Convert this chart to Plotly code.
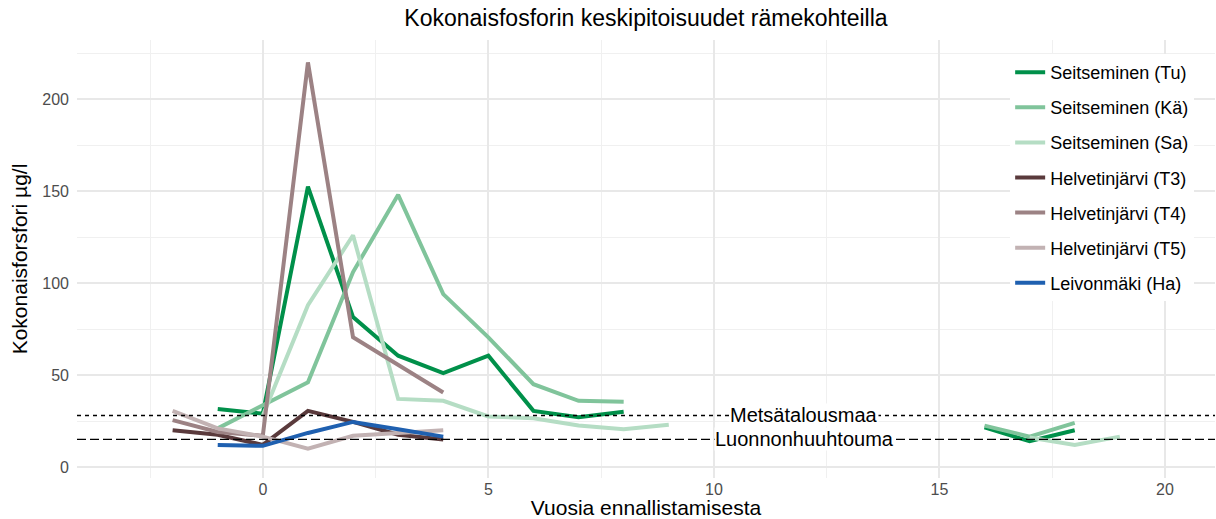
import plotly.graph_objects as go

# --- data ---
tu_x = [-1, 0, 1, 2, 3, 4, 5, 6, 7, 8, None, 16, 17, 18]
tu_y = [31.5, 29, 152.5, 81.5, 60.5, 51, 60.5, 30.5, 27, 30, None, 21.5, 14, 20]

ka_x = [-1, 0, 1, 2, 3, 4, 5, 6, 7, 8, None, 16, 17, 18]
ka_y = [21, 33.5, 46, 106, 148, 94, 70.5, 45, 36, 35.5, None, 22.5, 16.5, 24]

sa_x = [0, 1, 2, 3, 4, 5, 6, 7, 8, 9, None, 17, 18, 19]
sa_y = [28, 88, 126, 37, 36, 27.5, 26.5, 22.5, 20.5, 23, None, 16, 12, 16.5]

t3_x = [-2, -1, 0, 1, 2, 3, 4]
t3_y = [20, 17.5, 12, 30.5, 24.5, 17.5, 15]

t4_x = [-2, -1, 0, 1, 2, 3, 4]
t4_y = [25.5, 19, 17, 220, 70.5, 55.5, 40.5]

t5_x = [-2, -1, 0, 1, 2, 3, 4]
t5_y = [30.5, 21, 16.5, 10, 17, 18.5, 20]

ha_x = [-1, 0, 1, 2, 3, 4]
ha_y = [12, 11.5, 18.5, 24.5, 20.5, 16.5]

series_names = ["Seitseminen (Tu)", "Seitseminen (Kä)", "Seitseminen (Sa)",
                "Helvetinjärvi (T3)", "Helvetinjärvi (T4)", "Helvetinjärvi (T5)",
                "Leivonmäki (Ha)"]
series_colors = ["#00904A", "#80C49B", "#B5DDC4", "#5A3A3C", "#9C8284", "#C2B2B3", "#1F60B0"]

ref_names = ["Metsätalousmaa", "Luonnonhuuhtouma"]
ref_values = [28, 15]
ref_label_x = 12

x_ticks = [0, 5, 10, 15, 20]
y_ticks = [0, 50, 100, 150, 200]

title_text = "Kokonaisfosforin keskipitoisuudet rämekohteilla"
x_title = "Vuosia ennallistamisesta"
y_title = "Kokonaisforsfori µg/l"

# --- figure ---
font_family = "Liberation Sans, Arial, sans-serif"
fig = go.Figure()
all_x = [tu_x, ka_x, sa_x, t3_x, t4_x, t5_x, ha_x]
all_y = [tu_y, ka_y, sa_y, t3_y, t4_y, t5_y, ha_y]
for i, (xs, ys) in enumerate(zip(all_x, all_y)):
    fig.add_trace(go.Scatter(
        x=xs, y=ys, mode="lines", name=series_names[i],
        line=dict(color=series_colors[i], width=4),
        connectgaps=False, legendgroup=f"g{i}",
    ))

dashes = ["4px,4px", "9px,4px"]
for name, val, dsh in zip(ref_names, ref_values, dashes):
    fig.add_shape(type="line", xref="paper", x0=0, x1=1, yref="y", y0=val, y1=val,
                  line=dict(color="#000000", width=1.4, dash=dsh), layer="above")
    fig.add_annotation(x=ref_label_x, y=val, xref="x", yref="y", text=name,
                       showarrow=False, bgcolor="white",
                       font=dict(size=20, color="#000000", family=font_family),
                       borderpad=0)

fig.update_layout(
    width=1216, height=519,
    margin=dict(l=77, r=1, t=40, b=41),
    paper_bgcolor="white", plot_bgcolor="white",
    font=dict(family=font_family, color="#000000"),
    title=dict(text=title_text, x=0.5, xref="paper", xanchor="center",
               y=1 - 18 / 519, yanchor="middle",
               font=dict(size=23, color="#000000")),
    showlegend=True,
    legend=dict(x=0.82, xanchor="left", y=0.968, yanchor="top",
                bgcolor="white", font=dict(size=18, color="#000000"),
                tracegroupgap=8.7, itemwidth=30),
    xaxis=dict(range=[-4.12, 21.11], tickvals=x_ticks, showline=False, zeroline=False,
               gridcolor="#E8E8E8", gridwidth=1.8, automargin=False,
               minor=dict(dtick=2.5, tick0=-2.5, showgrid=True, gridcolor="#F0F0F0", gridwidth=1),
               tickfont=dict(size=16, color="#4D4D4D"), ticks="",
               title=dict(text=x_title, font=dict(size=21, color="#000000"), standoff=2)),
    yaxis=dict(range=[-6, 232.2], tickvals=y_ticks, showline=False, zeroline=False,
               gridcolor="#E8E8E8", gridwidth=1.8, automargin=False, ticklabelstandoff=7,
               minor=dict(dtick=25, tick0=25, showgrid=True, gridcolor="#F0F0F0", gridwidth=1),
               tickfont=dict(size=16, color="#4D4D4D"), ticks="",
               title=dict(text=y_title, font=dict(size=21, color="#000000"), standoff=8)),
)

fig.write_html("out.html", config={"displayModeBar": False},
               post_script="document.body.style.margin='0px';")
